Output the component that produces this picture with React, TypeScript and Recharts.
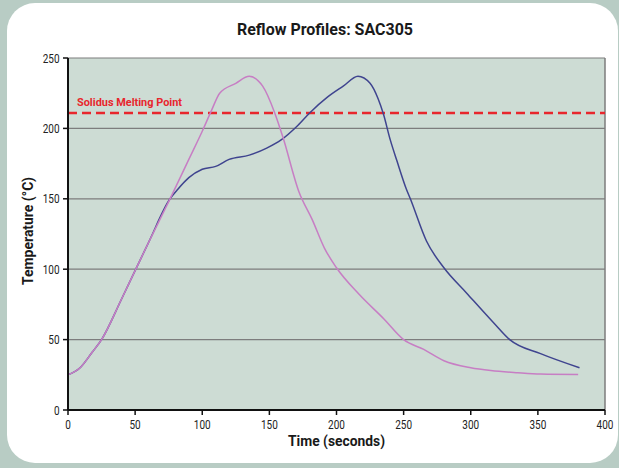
import React from 'react';
import { LineChart, Line, XAxis, YAxis, CartesianGrid, ReferenceLine } from 'recharts';

const xTicks = [0, 50, 100, 150, 200, 250, 300, 350, 400];
const yTicks = [0, 50, 100, 150, 200, 250];
const solidusTemp = 211;

// Blue profile (longer soak)
const blueTime = [0, 9, 18, 25, 40, 60, 76, 82, 90, 100, 110, 120, 135, 148, 159, 170, 180, 193, 205, 216, 225, 231, 235, 240, 245, 252, 255, 267, 280, 297, 317, 329, 352, 381];
const blueTemp = [25, 30, 41, 50, 79, 119, 150, 157, 165, 171, 173, 178, 181, 186, 192, 201, 211, 222, 230, 237, 232, 221, 210, 192, 177, 157, 150, 120, 101, 83, 62, 50, 40, 30];

// Pink profile (fast ramp)
const pinkTime = [0, 9, 18, 25, 40, 60, 76, 90, 100, 107, 113, 125, 135, 145, 154, 160, 172, 182, 191, 200, 217, 235, 250, 265, 280, 300, 315, 335, 352, 380];
const pinkTemp = [25, 30, 41, 50, 79, 119, 150, 178, 198, 213, 225, 232, 237, 230, 211, 194, 155, 135, 115, 101, 82, 65, 50, 43, 35, 30, 28, 26.5, 25.6, 25.3];

const blueData = blueTime.map((t, i) => ({ time: t, temp: blueTemp[i] }));
const pinkData = pinkTime.map((t, i) => ({ time: t, temp: pinkTemp[i] }));

const FONT = "'Liberation Sans Narrow', 'Roboto', 'Liberation Sans', sans-serif";
const DIGIT_W = 5.6;

const XTick = (props: any) => {
  const { x, y, payload } = props;
  const s = String(payload.value);
  const len = s.length * DIGIT_W;
  return (
    <text x={x - len / 2} y={y + 12} textAnchor="start" fontFamily={FONT} fontSize={12.5} fill="#222" textLength={len} lengthAdjust="spacingAndGlyphs">
      {s}
    </text>
  );
};

const YTick = (props: any) => {
  const { x, y, payload } = props;
  const s = String(payload.value);
  const len = s.length * DIGIT_W;
  return (
    <text x={x - 1.5 - len} y={y + 4.5} textAnchor="start" fontFamily={FONT} fontSize={12.5} fill="#222" textLength={len} lengthAdjust="spacingAndGlyphs">
      {s}
    </text>
  );
};

export default function App() {
  return (
    <div style={{ position: 'absolute', left: 0, top: 0, width: 619, height: 468, background: '#b8ccc4', overflow: 'hidden' }}>
      <div style={{ position: 'absolute', left: 7, top: 3, width: 611, height: 460, background: '#ffffff', borderRadius: 28 }} />
      <div style={{ position: 'absolute', left: 0, top: 0 }}>
        <LineChart width={619} height={468} margin={{ top: 58, right: 14, bottom: 28, left: 8 }}>
          <CartesianGrid vertical={false} stroke="#7d7d7d" strokeWidth={1.2} fill="#cddcd4" fillOpacity={1} />
          <XAxis
            dataKey="time"
            type="number"
            domain={[0, 400]}
            ticks={xTicks}
            allowDataOverflow
            height={30}
            tickSize={5}
            tick={<XTick />}
            tickLine={{ stroke: '#111', strokeWidth: 1.5 }}
            axisLine={{ stroke: '#111', strokeWidth: 2 }}
          />
          <YAxis
            type="number"
            domain={[0, 250]}
            ticks={yTicks}
            width={60}
            tickSize={5}
            tick={<YTick />}
            tickLine={{ stroke: '#111', strokeWidth: 1.5 }}
            axisLine={{ stroke: '#111', strokeWidth: 2 }}
          />
          <ReferenceLine x={400} stroke="#7d7d7d" strokeWidth={1.5} />
          <ReferenceLine y={solidusTemp} stroke="#e8262c" strokeWidth={2.5} strokeDasharray="9 5" />
          <Line data={blueData} dataKey="temp" type="monotone" stroke="#3f448f" strokeWidth={1.5} dot={false} isAnimationActive={false} />
          <Line data={pinkData} dataKey="temp" type="monotone" stroke="#c77ec4" strokeWidth={1.5} dot={false} isAnimationActive={false} />
        </LineChart>
      </div>
      <svg width={619} height={468} style={{ position: 'absolute', left: 0, top: 0, pointerEvents: 'none' }}>
        <text x={237} y={35} fontFamily={FONT} fontWeight="bold" fontSize={16.5} fill="#1a1a1a" textLength={176} lengthAdjust="spacingAndGlyphs">Reflow Profiles: SAC305</text>
        <text x={77} y={106} fontFamily={FONT} fontWeight="bold" fontSize={10} fill="#e8262c" textLength={105} lengthAdjust="spacingAndGlyphs">Solidus Melting Point</text>
        <text x={288} y={446} fontFamily={FONT} fontWeight="bold" fontSize={14} fill="#1a1a1a" textLength={97} lengthAdjust="spacingAndGlyphs">Time (seconds)</text>
        <text x={0} y={0} transform="translate(33,285) rotate(-90)" fontFamily={FONT} fontWeight="bold" fontSize={14} fill="#1a1a1a" textLength={108} lengthAdjust="spacingAndGlyphs">Temperature (°C)</text>
      </svg>
    </div>
  );
}
